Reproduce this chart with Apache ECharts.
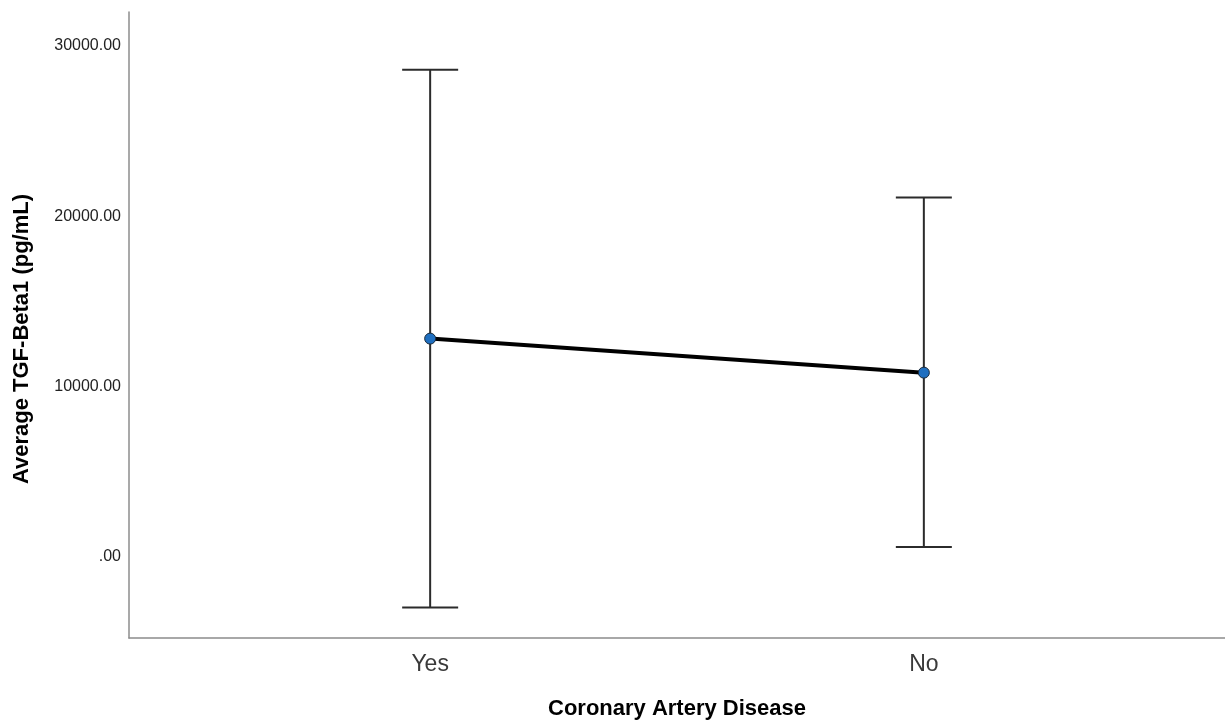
<!DOCTYPE html>
<html>
<head>
<meta charset="utf-8">
<script src="https://cdn.jsdelivr.net/npm/echarts@6/dist/echarts.min.js"></script>
<style>
html,body{margin:0;padding:0;background:#fff;}
#chart{width:1225px;height:727px;}
</style>
</head>
<body>
<div id="chart"></div>
<script>
const categories = ["Yes", "No"];
const means = [12800, 10800];
const lowerCI = [-3000, 550];
const upperCI = [28600, 21100];
const yTicks = [0, 10000, 20000, 30000];

const chart = echarts.init(document.getElementById('chart'));
const font = '"Liberation Sans", Arial, sans-serif';

const errData = categories.map((c, i) => [i, lowerCI[i], upperCI[i]]);
const meanData = categories.map((c, i) => [i, means[i]]);

chart.setOption({
  animation: false,
  backgroundColor: '#ffffff',
  grid: { left: 129, right: 0, top: 12, bottom: 89, containLabel: false },
  xAxis: {
    type: 'value',
    min: -0.61,
    max: 1.61,
    name: 'Coronary Artery Disease',
    nameLocation: 'middle',
    nameGap: 60,
    nameTextStyle: { fontFamily: font, fontSize: 22, fontWeight: 'bold', color: '#000' },
    axisLine: { show: true, onZero: false, lineStyle: { color: '#8c8c8c', width: 1.5 } },
    axisTick: { show: false },
    splitLine: { show: false },
    axisLabel: {
      customValues: [0, 1],
      formatter: v => categories[Math.round(v)] || '',
      fontFamily: font, fontSize: 23, color: '#3a3a3a', margin: 15
    }
  },
  yAxis: {
    type: 'value',
    min: -4800,
    max: 32000,
    name: 'Average TGF-Beta1 (pg/mL)',
    nameLocation: 'middle',
    nameGap: 96,
    nameRotate: 90,
    nameTextStyle: { fontFamily: font, fontSize: 22, fontWeight: 'bold', color: '#000', padding: [0, 28, 0, 0] },
    axisLine: { show: true, onZero: false, lineStyle: { color: '#8c8c8c', width: 1.5 } },
    axisTick: { show: false },
    splitLine: { show: false },
    axisLabel: {
      customValues: yTicks,
      formatter: v => v === 0 ? '.00' : v.toFixed(2),
      fontFamily: font, fontSize: 16, color: '#222', margin: 8
    }
  },
  series: [
    {
      type: 'custom',
      data: errData,
      z: 2,
      renderItem: function (params, api) {
        const x = api.value(0);
        const lo = api.coord([x, api.value(1)]);
        const hi = api.coord([x, api.value(2)]);
        const hw = 28;
        const style = { stroke: '#2b2b2b', lineWidth: 2 };
        return {
          type: 'group',
          children: [
            { type: 'line', shape: { x1: lo[0], y1: lo[1], x2: hi[0], y2: hi[1] }, style: style },
            { type: 'line', shape: { x1: hi[0] - hw, y1: hi[1], x2: hi[0] + hw, y2: hi[1] }, style: style },
            { type: 'line', shape: { x1: lo[0] - hw, y1: lo[1], x2: lo[0] + hw, y2: lo[1] }, style: style }
          ]
        };
      }
    },
    {
      type: 'line',
      data: meanData,
      z: 3,
      symbol: 'circle',
      symbolSize: 11,
      lineStyle: { color: '#000', width: 4 },
      itemStyle: { color: '#1f6fc0', borderColor: '#1a2a3a', borderWidth: 1 }
    }
  ]
});
</script>
</body>
</html>
